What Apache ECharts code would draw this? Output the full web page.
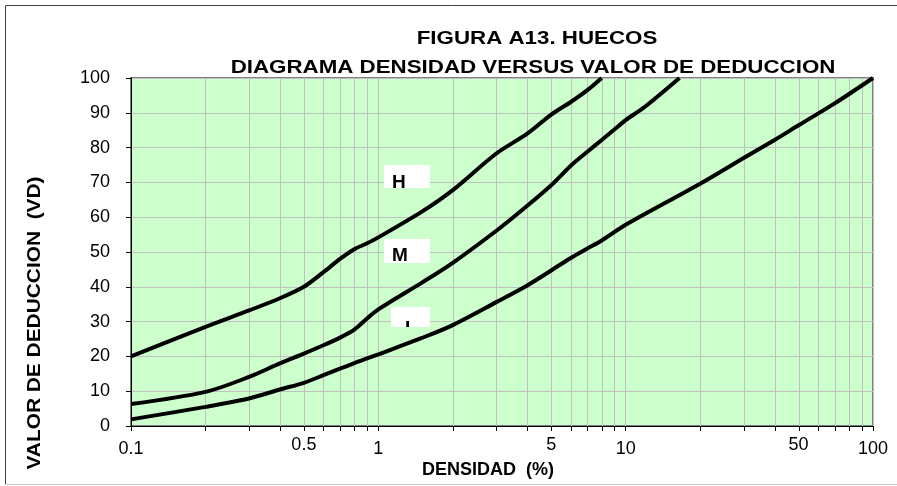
<!DOCTYPE html>
<html>
<head>
<meta charset="utf-8">
<script src="https://cdn.jsdelivr.net/npm/echarts@6/dist/echarts.min.js"></script>
<style>
  html, body { margin: 0; padding: 0; background: #fff; }
  #chart { width: 897px; height: 486px; }
</style>
</head>
<body>
<div id="chart"></div>
<script>
// densidad (%) -> valor de deduccion
var xH = [0.1, 0.2, 0.3, 0.4, 0.5, 0.6, 0.7, 0.8, 0.9, 1, 1.5, 2, 3, 4, 5, 6, 7, 8];
var yH = [20, 28.5, 33.2, 36.7, 40, 44.2, 48, 50.8, 52.5, 54.2, 61.6, 67.8, 78.3, 84, 89.5, 93.1, 96.5, 100];

var xM = [0.1, 0.2, 0.3, 0.4, 0.5, 0.6, 0.7, 0.8, 0.9, 1, 1.5, 2, 3, 4, 5, 6, 7, 8, 9, 10, 12, 16.5];
var yM = [6.3, 9.8, 14.1, 18, 20.8, 23.2, 25.4, 27.7, 30.9, 33.5, 41.2, 46.9, 56.1, 63.3, 69.2, 74.8, 78.8, 82.2, 85.2, 87.9, 91.8, 100];

var xL = [0.1, 0.2, 0.3, 0.4, 0.5, 0.6, 0.7, 0.8, 0.9, 1, 1.5, 2, 3, 4, 5, 6, 7, 8, 10, 20, 30, 40, 50, 70, 100];
var yL = [1.9, 5.5, 7.9, 10.5, 12.4, 14.6, 16.5, 18.1, 19.4, 20.6, 25.3, 29, 35.6, 40.4, 44.7, 48.3, 51, 53.3, 57.8, 69.6, 77, 82.2, 86.4, 92.7, 100];

// lineas secundarias de la escala logaritmica
var minorTicks = [0.2, 0.3, 0.4, 0.5, 0.6, 0.7, 0.8, 0.9,
                  2, 3, 4, 5, 6, 7, 8, 9,
                  20, 30, 40, 50, 60, 70, 80, 90];
var minorLabels = [0.5, 5, 50];

var titleLines = ['FIGURA A13. HUECOS', 'DIAGRAMA DENSIDAD VERSUS VALOR DE DEDUCCION'];
var xName = 'DENSIDAD  (%)';
var yName = 'VALOR DE DEDUCCION  (VD)';
var curveNames = ['H', 'M', 'L'];

var FONT = '"Liberation Sans", Arial, sans-serif';

function pairs(xs, ys) {
  return xs.map(function (x, i) { return [x, ys[i]]; });
}

function renderMinor(params, api) {
  var v = api.value(0);
  var top = api.coord([v, 100]);
  var bot = api.coord([v, 0]);
  var x = Math.round(bot[0]) + 0.5;
  var children = [
    { type: 'line', shape: { x1: x, y1: top[1], x2: x, y2: bot[1] },
      style: { stroke: '#C0C0C0', lineWidth: 1 } },
    { type: 'line', shape: { x1: x, y1: bot[1], x2: x, y2: bot[1] + 5 },
      style: { stroke: '#000', lineWidth: 1 } }
  ];
  if (minorLabels.indexOf(v) >= 0) {
    children.push({
      type: 'text', x: bot[0], y: bot[1] + 10,
      style: { text: String(v), font: '18px ' + FONT, fill: '#000', align: 'center', verticalAlign: 'top' }
    });
  }
  return { type: 'group', children: children };
}

var chart = echarts.init(document.getElementById('chart'));

chart.setOption({
  animation: false,
  backgroundColor: '#fff',
  grid: {
    left: 131, right: 24, top: 78, bottom: 60,
    show: true, backgroundColor: '#CCFFCC', borderColor: '#808080', borderWidth: 2
  },
  xAxis: {
    type: 'log', logBase: 10, min: 0.1, max: 100,
    axisLine: { lineStyle: { color: '#000', width: 1 } },
    axisTick: { show: true, length: 5, lineStyle: { color: '#000' } },
    axisLabel: { color: '#000', fontSize: 18, fontFamily: FONT, margin: 14,
      formatter: function (v) { return String(v); } },
    splitLine: { show: true, lineStyle: { color: '#C0C0C0', width: 1 } },
    minorTick: { show: false }
  },
  yAxis: {
    type: 'value', min: 0, max: 100, interval: 10,
    axisLine: { show: true, lineStyle: { color: '#000', width: 1 } },
    axisTick: { show: true, length: 5, lineStyle: { color: '#000' } },
    axisLabel: { color: '#000', fontSize: 18, fontFamily: FONT, margin: 21 },
    splitLine: { show: true, lineStyle: { color: '#C0C0C0', width: 1 } }
  },
  graphic: [
    // marco exterior
    { type: 'polyline', z: 0, shape: { points: [[5.5, 485], [5.5, 5.5], [897, 5.5]] },
      style: { stroke: '#404040', lineWidth: 1, fill: null } },
    { type: 'line', z: 0, shape: { x1: 5, y1: 484.5, x2: 897, y2: 484.5 },
      style: { stroke: '#C8C8C8', lineWidth: 1 } },
    // titulo
    { type: 'text', x: 537, y: 39, scaleX: 1.24,
      style: { text: titleLines[0], font: 'bold 18px ' + FONT, fill: '#000', align: 'center', verticalAlign: 'middle' } },
    { type: 'text', x: 533, y: 68.5, scaleX: 1.24,
      style: { text: titleLines[1], font: 'bold 18px ' + FONT, fill: '#000', align: 'center', verticalAlign: 'middle' } },
    // nombres de ejes
    { type: 'text', x: 488, y: 470,
      style: { text: xName, font: 'bold 18px ' + FONT, fill: '#000', align: 'center', verticalAlign: 'middle' } },
    { type: 'text', x: 35, y: 323, rotation: Math.PI / 2, scaleX: 1.16,
      style: { text: yName, font: 'bold 18px ' + FONT, fill: '#000', align: 'center', verticalAlign: 'middle' } },
    // etiquetas de curvas
    { type: 'rect', z: 2, shape: { x: 384, y: 165, width: 46, height: 23 }, style: { fill: '#fff' } },
    { type: 'rect', z: 2, shape: { x: 384, y: 239, width: 46, height: 24 }, style: { fill: '#fff' } },
    { type: 'rect', z: 2, shape: { x: 391, y: 307, width: 39, height: 20 }, style: { fill: '#fff' } },
    { type: 'text', z: 3, x: 392, y: 173.5,
      style: { text: curveNames[0], font: 'bold 19px ' + FONT, fill: '#000', align: 'left', verticalAlign: 'top' } },
    { type: 'text', z: 3, x: 392, y: 246.5,
      style: { text: curveNames[1], font: 'bold 19px ' + FONT, fill: '#000', align: 'left', verticalAlign: 'top' } },
    { type: 'text', z: 3, x: 405, y: 319.5,
      style: { text: curveNames[2], font: 'bold 19px ' + FONT, fill: '#000', align: 'left', verticalAlign: 'top' } },
    // recorte de las letras por debajo del cuadro
    { type: 'rect', z: 4, shape: { x: 388, y: 188, width: 26, height: 6 }, style: { fill: '#CCFFCC' } },
    { type: 'rect', z: 4, shape: { x: 400, y: 327, width: 18, height: 9 }, style: { fill: '#CCFFCC' } }
  ],
  series: [
    {
      type: 'custom', z: 1, silent: true,
      renderItem: renderMinor,
      encode: { x: 0, y: 1 },
      data: minorTicks.map(function (v) { return [v, 0]; })
    },
    {
      name: curveNames[0], type: 'line', z: 5, data: pairs(xH, yH),
      symbol: 'none', smooth: 0.3, lineStyle: { color: '#000', width: 4 }
    },
    {
      name: curveNames[1], type: 'line', z: 5, data: pairs(xM, yM),
      symbol: 'none', smooth: 0.3, lineStyle: { color: '#000', width: 4 }
    },
    {
      name: curveNames[2], type: 'line', z: 5, data: pairs(xL, yL),
      symbol: 'none', smooth: 0.3, lineStyle: { color: '#000', width: 4 }
    }
  ]
});
</script>
</body>
</html>
